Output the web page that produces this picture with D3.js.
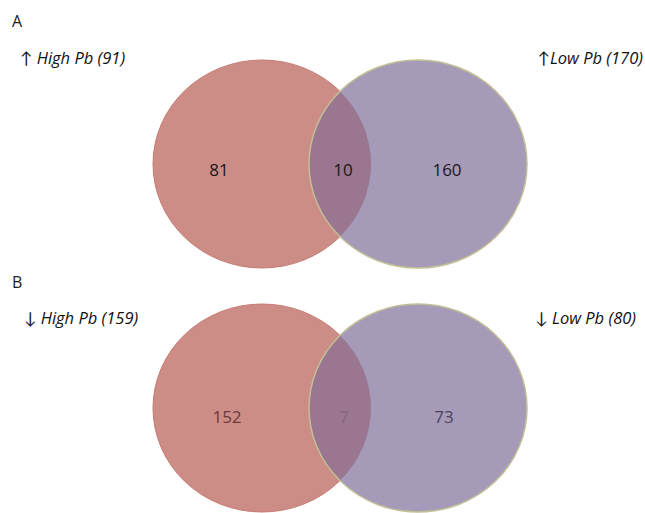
<!DOCTYPE html>
<html>
<head>
<meta charset="utf-8">
<script src="https://cdn.jsdelivr.net/npm/d3@7"></script>
<style>
  html, body { margin: 0; padding: 0; background: #ffffff; }
  svg { display: block; }
</style>
</head>
<body>
<svg id="chart" width="645" height="513"></svg>
<script>
// ---- data ----
const panels = ["A", "B"];
const arrows = ["\u2191", "\u2193"];
const leftSetNames = ["High Pb", "High Pb"];
const rightSetNames = ["Low Pb", "Low Pb"];
const leftTotals = [91, 159];
const rightTotals = [170, 80];
const leftOnly = [81, 152];
const shared = [10, 7];
const rightOnly = [160, 73];

// ---- layout ----
const svg = d3.select("#chart");
const font = "'Open Sans', Lato, sans-serif";
const rx = 109, ry = 104;
const cxLeft = 262, cxRight = 418;
const letterY = [27, 288];
const labelY = [64, 324];
const circleCY = [164, 408];
const leftLabelX = [20, 24];
const rightLabelEnd = [643, 636];
const numX = [[219, 343, 447], [227, 344, 444]];

const redFill = "#cd8d87", purpleFill = "#a69ab9", overlapFill = "#9a7690";
const numColors = [
  ["#1c1618", "#1c1618", "#1c1618"],
  ["#6a3a3c", "#85667f", "#4d4360"]
];

const defs = svg.append("defs");

panels.forEach((p, i) => {
  const g = svg.append("g");

  g.append("text").attr("x", 12).attr("y", letterY[i])
    .attr("font-family", font).attr("font-size", 16).attr("fill", "#222")
    .text(p);

  const lt = g.append("text").attr("x", leftLabelX[i]).attr("y", labelY[i])
    .attr("font-family", font).attr("font-size", 16.5).attr("fill", "#111");
  lt.append("tspan").text(arrows[i] + " ");
  lt.append("tspan").attr("font-style", "italic")
    .text(`${leftSetNames[i]} (${leftTotals[i]})`);

  const rt = g.append("text").attr("x", rightLabelEnd[i]).attr("y", labelY[i])
    .attr("text-anchor", "end")
    .attr("font-family", font).attr("font-size", 16.5).attr("fill", "#111");
  rt.append("tspan").text(arrows[i] + (i === 0 ? "" : " "));
  rt.append("tspan").attr("font-style", "italic")
    .text(`${rightSetNames[i]} (${rightTotals[i]})`);

  const cy = circleCY[i];

  const clipId = "clipRight" + i;
  defs.append("clipPath").attr("id", clipId)
    .append("ellipse").attr("cx", cxRight).attr("cy", cy).attr("rx", rx).attr("ry", ry);

  g.append("ellipse").attr("cx", cxLeft).attr("cy", cy).attr("rx", rx).attr("ry", ry)
    .attr("fill", redFill).attr("stroke", "#c87a73").attr("stroke-width", 1);
  g.append("ellipse").attr("cx", cxRight).attr("cy", cy).attr("rx", rx).attr("ry", ry)
    .attr("fill", purpleFill);
  g.append("ellipse").attr("cx", cxLeft).attr("cy", cy).attr("rx", rx).attr("ry", ry)
    .attr("clip-path", `url(#${clipId})`)
    .attr("fill", overlapFill);
  g.append("ellipse").attr("cx", cxRight).attr("cy", cy).attr("rx", rx).attr("ry", ry)
    .attr("fill", "none").attr("stroke", "#c2bf96").attr("stroke-width", 1.5);

  const counts = [leftOnly[i], shared[i], rightOnly[i]];
  counts.forEach((c, k) => {
    g.append("text").attr("x", numX[i][k]).attr("y", cy + (i === 0 ? 12 : 15))
      .attr("text-anchor", "middle")
      .attr("font-family", font).attr("font-size", 17)
      .attr("fill", numColors[i][k])
      .text(c);
  });
});
</script>
</body>
</html>
